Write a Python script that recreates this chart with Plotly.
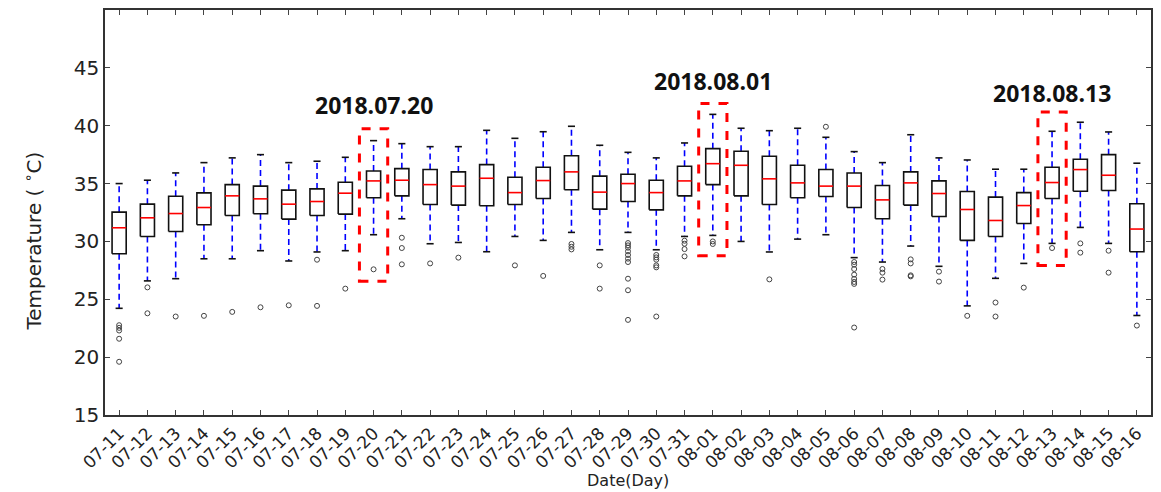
import plotly.graph_objects as go

dates = ["07-11", "07-12", "07-13", "07-14", "07-15", "07-16", "07-17", "07-18", "07-19", "07-20",
         "07-21", "07-22", "07-23", "07-24", "07-25", "07-26", "07-27", "07-28", "07-29", "07-30",
         "07-31", "08-01", "08-02", "08-03", "08-04", "08-05", "08-06", "08-07", "08-08", "08-09",
         "08-10", "08-11", "08-12", "08-13", "08-14", "08-15", "08-16"]

whisker_hi = [35.0, 35.29, 35.92, 36.81, 37.22, 37.5, 36.81, 36.93, 37.27, 38.71,
              38.45, 38.19, 38.19, 39.6, 38.91, 39.48, 39.95, 38.31, 37.7, 37.22,
              38.51, 40.98, 39.78, 39.57, 39.78, 39.0, 37.76, 36.81, 39.22, 37.22,
              37.04, 36.24, 36.24, 39.52, 40.3, 39.46, 36.76]
q3 = [32.53, 33.22, 33.91, 34.2, 34.91, 34.78, 34.43, 34.54, 35.12, 36.09,
      36.29, 36.21, 36.01, 36.64, 35.55, 36.41, 37.41, 35.64, 35.81, 35.29,
      36.5, 38.02, 37.79, 37.36, 36.58, 36.21, 35.92, 34.83, 36.01, 35.23,
      34.31, 33.83, 34.22, 36.41, 37.1, 37.5, 33.25]
median = [31.18, 32.04, 32.41, 32.93, 33.94, 33.68, 33.22, 33.45, 34.17, 35.23,
          35.29, 34.91, 34.78, 35.46, 34.22, 35.26, 36.01, 34.26, 35.0, 34.22,
          35.23, 36.72, 36.58, 35.41, 35.06, 34.78, 34.78, 33.59, 35.06, 34.14,
          32.76, 31.81, 33.1, 35.09, 36.21, 35.72, 31.07]
q1 = [28.94, 30.43, 30.86, 31.44, 32.24, 32.39, 31.93, 32.24, 32.36, 33.77,
      33.94, 33.19, 33.14, 33.08, 33.19, 33.71, 34.46, 32.79, 33.45, 32.73,
      33.94, 34.91, 33.94, 33.19, 33.77, 33.88, 32.93, 31.96, 33.14, 32.16,
      30.09, 30.43, 31.55, 33.71, 34.34, 34.4, 29.11]
whisker_lo = [24.22, 26.59, 26.78, 28.5, 28.5, 29.2, 28.31, 29.09, 29.2, 30.58,
              31.96, 29.8, 29.91, 29.11, 30.43, 30.09, 30.78, 29.28, 30.78, 29.28,
              30.43, 30.52, 30.0, 29.09, 30.2, 30.58, 28.6, 28.22, 29.6, 27.85,
              24.43, 26.81, 28.1, 29.83, 31.21, 29.83, 23.6]
outliers = [
    [22.76, 22.53, 22.3, 21.59, 19.6],
    [26.03, 23.79],
    [23.51],
    [23.57],
    [23.91],
    [24.31],
    [24.48],
    [28.42, 24.43],
    [25.92],
    [27.59],
    [30.32, 29.43, 28.02],
    [28.1],
    [28.6],
    [],
    [27.93],
    [27.02],
    [29.78, 29.54, 29.31],
    [27.93, 25.92],
    [29.86, 29.66, 29.46, 29.14, 28.83, 28.51, 28.22, 26.78, 25.78, 23.22],
    [28.83, 28.62, 28.42, 27.93, 27.76, 23.51],
    [30.06, 29.8, 29.34, 28.71],
    [30.0, 29.78],
    [],
    [26.72],
    [],
    [39.91],
    [28.22, 27.99, 27.62, 27.13, 26.76, 26.5, 26.33, 22.56],
    [27.62, 27.3, 26.7],
    [28.45, 28.1, 27.07, 26.98],
    [27.39, 26.53],
    [23.57],
    [24.72, 23.51],
    [26.01],
    [29.43],
    [29.83, 29.03],
    [29.2, 27.3],
    [22.73],
]

highlight_dates = ["07-20", "08-01", "08-13"]
highlight_lo = [26.55, 28.77, 27.93]
highlight_hi = [39.74, 41.93, 41.18]
highlight_labels = ["2018.07.20", "2018.08.01", "2018.08.13"]
highlight_label_y = [41.8, 43.9, 42.84]

BOX_HALF = 0.25
CAP_HALF = 0.125

pos = list(range(len(dates)))

box_x, box_y = [], []
med_x, med_y = [], []
wh_x, wh_y = [], []
cap_x, cap_y = [], []
out_x, out_y = [], []
for i in pos:
    l, r = i - BOX_HALF, i + BOX_HALF
    box_x += [l, r, r, l, l, None]
    box_y += [q1[i], q1[i], q3[i], q3[i], q1[i], None]
    med_x += [l, r, None]
    med_y += [median[i], median[i], None]
    wh_x += [i, i, None, i, i, None]
    wh_y += [q3[i], whisker_hi[i], None, q1[i], whisker_lo[i], None]
    cap_x += [i - CAP_HALF, i + CAP_HALF, None, i - CAP_HALF, i + CAP_HALF, None]
    cap_y += [whisker_hi[i], whisker_hi[i], None, whisker_lo[i], whisker_lo[i], None]
    for v in outliers[i]:
        out_x.append(i)
        out_y.append(v)

fig = go.Figure()
fig.add_trace(go.Scatter(x=wh_x, y=wh_y, mode="lines",
                         line=dict(color="#0000ff", width=1.6, dash="6px,4px"),
                         hoverinfo="skip", showlegend=False))
fig.add_trace(go.Scatter(x=cap_x, y=cap_y, mode="lines",
                         line=dict(color="#111111", width=1.6),
                         hoverinfo="skip", showlegend=False))
fig.add_trace(go.Scatter(x=box_x, y=box_y, mode="lines",
                         line=dict(color="#111111", width=1.6),
                         hoverinfo="skip", showlegend=False))
fig.add_trace(go.Scatter(x=med_x, y=med_y, mode="lines",
                         line=dict(color="#ff0000", width=1.6),
                         hoverinfo="skip", showlegend=False))
fig.add_trace(go.Scatter(x=out_x, y=out_y, mode="markers",
                         marker=dict(symbol="circle-open", size=5, color="#444444",
                                     line=dict(width=1, color="#444444")),
                         showlegend=False))

for d, lo, hi, lab, ly in zip(highlight_dates, highlight_lo, highlight_hi,
                              highlight_labels, highlight_label_y):
    i = dates.index(d)
    fig.add_shape(type="rect", xref="x", yref="y", x0=i - 0.5, x1=i + 0.5, y0=lo, y1=hi,
                  line=dict(color="#ff0000", width=3, dash="dash"))
    fig.add_annotation(x=i, y=ly, xref="x", yref="y", text="<b>" + lab + "</b>",
                       showarrow=False, font=dict(family="Open Sans", size=23, color="#111111"))

# axis titles placed in paper coordinates just outside the plot area
fig.add_annotation(x=0.5, y=0, xref="paper", yref="paper", yshift=-65, yanchor="middle",
                   text="Date(Day)", showarrow=False,
                   font=dict(family="DejaVu Sans", size=16, color="#222222"))
fig.add_annotation(x=0, y=0.5, xref="paper", yref="paper", xshift=-73, yshift=-29,
                   xanchor="center", yanchor="middle",
                   text="Temperature ( <sup>∘</sup>C)", textangle=-90, showarrow=False,
                   font=dict(family="DejaVu Sans", size=20, color="#222222"))

fig.update_layout(
    width=1161, height=492,
    margin=dict(l=105, r=10, t=10, b=77),
    paper_bgcolor="white", plot_bgcolor="white",
    font=dict(family="DejaVu Sans", color="#222222"),
)
fig.update_xaxes(
    range=[-0.5, len(dates) - 0.5], automargin=False,
    tickmode="array", tickvals=pos, ticktext=dates, tickangle=-45,
    tickfont=dict(size=17), ticks="inside", ticklen=5, tickcolor="#444444",
    showline=True, linecolor="#333333", linewidth=1.5, mirror="ticks",
    showgrid=False, zeroline=False,
)
fig.update_yaxes(
    range=[15, 50], automargin=False, tickvals=[15, 20, 25, 30, 35, 40, 45],
    tickfont=dict(size=20), ticks="inside", ticklen=5, tickcolor="#444444",
    showline=True, linecolor="#333333", linewidth=1.5, mirror="ticks",
    showgrid=False, zeroline=False,
)

fig.write_html("out.html")
